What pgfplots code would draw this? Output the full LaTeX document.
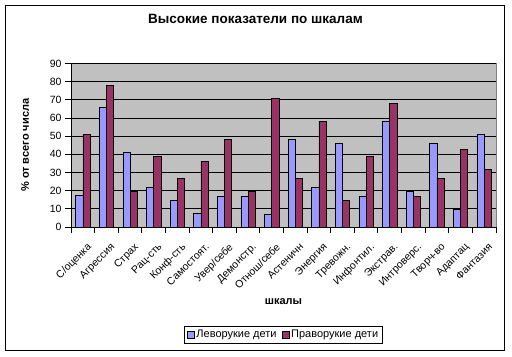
\documentclass[border=0pt]{standalone}
\usepackage{fontspec}
\setmainfont{Liberation Sans}
\usepackage{pgfplots}
\pgfplotsset{compat=1.18}
\definecolor{lefty}{HTML}{9999FF}
\definecolor{righty}{HTML}{993366}
\definecolor{plotbg}{HTML}{C0C0C0}
\begin{document}
\begin{tikzpicture}
\useasboundingbox (0,0) rectangle (512bp,-357bp);
\fill[white] (0,0) rectangle (512bp,-357bp);
\draw[line width=1.6bp] (5.5bp,-5.5bp) rectangle (504.5bp,-350.5bp);
\begin{axis}[
  at={(71bp,-227bp)}, anchor=south west,
  scale only axis, width=425bp, height=163.5bp,
  ybar=0pt, bar width=7.2bp,
  ymin=0, ymax=90, ytick={0,10,...,90},
  xmin=-0.5, xmax=17.5,
  xtick={-0.5,0.5,...,17.5},
  x tick label as interval,
  xticklabels={С/оценка,Агрессия,Страх,Рац-сть,Конф-сть,Самостоят.,Увер/себе,Демонстр.,Отнош/себе,Астеничн,Энергия,Тревожн.,Инфонтил.,Экстрав.,Интроверс.,Творч-во,Адаптац,Фантазия},
  x tick label style={rotate=45, anchor=north east, inner sep=1bp, xshift=-3bp, yshift=-8bp, font=\fontsize{10.5bp}{12bp}\selectfont},
  y tick label style={font=\fontsize{10.5bp}{12bp}\selectfont},
  /pgf/number format/assume math mode=true,
  axis x line*=bottom, axis y line*=left,
  axis line style={black, line width=0.9bp, -},
  tick align=outside, major tick length=6bp,
  tick style={black, line width=0.9bp},
  ymajorgrids, grid style={black, line width=0.9bp},
  axis background/.style={fill=plotbg, draw=gray, line width=0.9bp},
  title={Высокие показатели по шкалам},
  title style={at={(axis description cs:0.434,1.2355)}, anchor=center, font=\fontsize{13.5bp}{15bp}\selectfont\bfseries},
  xlabel={шкалы},
  xlabel style={at={(axis description cs:0.5,-0.4587)}, anchor=center, font=\fontsize{11bp}{13bp}\selectfont\bfseries},
  ylabel={\% от всего числа},
  ylabel style={at={(axis description cs:-0.108,0.5)}, anchor=center, font=\fontsize{11bp}{13bp}\selectfont\bfseries},
  legend columns=2,
  legend style={at={(axis description cs:0.5,-0.6055)}, anchor=north, draw=black, line width=0.8bp,
    font=\fontsize{11bp}{13bp}\selectfont, inner sep=2bp,
    /tikz/every even column/.append style={column sep=3bp}},
  legend image code/.code={\draw[#1, draw=black, line width=0.6bp] (0bp,-3.5bp) rectangle (7bp,3.5bp);},
]
\addplot[fill=lefty, draw=black, line width=0.6bp] coordinates {
(0,17.3) (1,65.8) (2,41) (3,21.9) (4,14.5) (5,7.3) (6,16.7) (7,16.7) (8,6.8)
(9,48.2) (10,21.9) (11,46) (12,16.7) (13,58.3) (14,19.5) (15,46) (16,9.6) (17,50.9)};
\addplot[fill=righty, draw=black, line width=0.6bp] coordinates {
(0,51.1) (1,78.1) (2,19.5) (3,39) (4,26.7) (5,36.2) (6,48.2) (7,19.5) (8,70.8)
(9,26.7) (10,58.3) (11,14.5) (12,39) (13,68.2) (14,16.7) (15,26.7) (16,42.8) (17,31.6)};
\legend{Леворукие дети, Праворукие дети}
\end{axis}
\end{tikzpicture}
\end{document}
